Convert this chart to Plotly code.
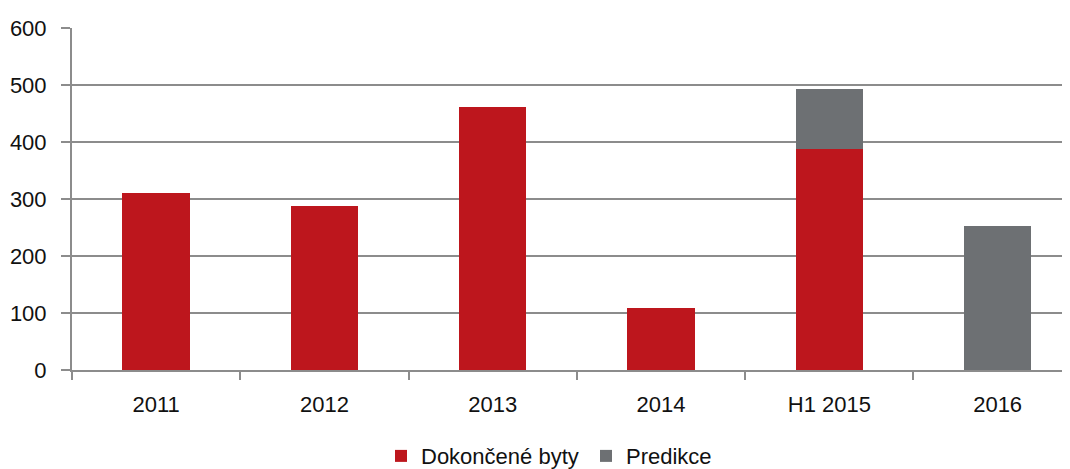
import plotly.graph_objects as go

categories = ["2011", "2012", "2013", "2014", "H1 2015", "2016"]
dokoncene = [311, 288, 462, 108, 388, None]
predikce = [None, None, None, None, 105, 253]
y_ticks = [0, 100, 200, 300, 400, 500, 600]

RED = "#BD161D"
GRAY = "#6D7073"
FONT = "Liberation Sans"
TXT = "#111111"

fig = go.Figure()
fig.add_trace(go.Bar(x=categories, y=dokoncene, name="Dokončené byty",
                     marker=dict(color=RED, line=dict(width=0)), width=0.4,
                     legend="legend"))
fig.add_trace(go.Bar(x=categories, y=predikce, name="Predikce",
                     marker=dict(color=GRAY, line=dict(width=0)), width=0.4,
                     legend="legend2"))

# page body has an 8px margin: figure occupies 8..1070 horizontally, 8..469 vertically
legend_common = dict(orientation="h", xref="container", yref="container",
                     yanchor="middle", y=0.028, xanchor="left",
                     font=dict(family=FONT, size=22, color=TXT),
                     itemwidth=30, bgcolor="rgba(0,0,0,0)")

fig.update_layout(
    barmode="stack",
    width=1062, height=461,
    margin=dict(l=64, r=0, t=20, b=99, autoexpand=False),
    plot_bgcolor="white", paper_bgcolor="white",
    font=dict(family=FONT, size=22, color=TXT),
    showlegend=True,
    legend=dict(legend_common, x=(381 - 8) / 1062),
    legend2=dict(legend_common, x=(586 - 8) / 1062),
    xaxis=dict(type="category", range=[-0.5, 5.43], automargin=False,
               showline=True, linecolor="#8C8C8C", linewidth=2,
               ticks="outside", tickson="boundaries", ticklen=8,
               tickcolor="#8C8C8C", tickwidth=2,
               showgrid=False, ticklabelstandoff=14),
    yaxis=dict(range=[0, 600], tickvals=y_ticks, automargin=False,
               showline=True, linecolor="#8C8C8C", linewidth=2,
               ticks="outside", ticklen=9, tickcolor="#8C8C8C", tickwidth=2,
               showgrid=True, gridcolor="#8C8C8C", gridwidth=2,
               zeroline=False, ticklabelstandoff=10),
)

fig.write_html("out.html")
